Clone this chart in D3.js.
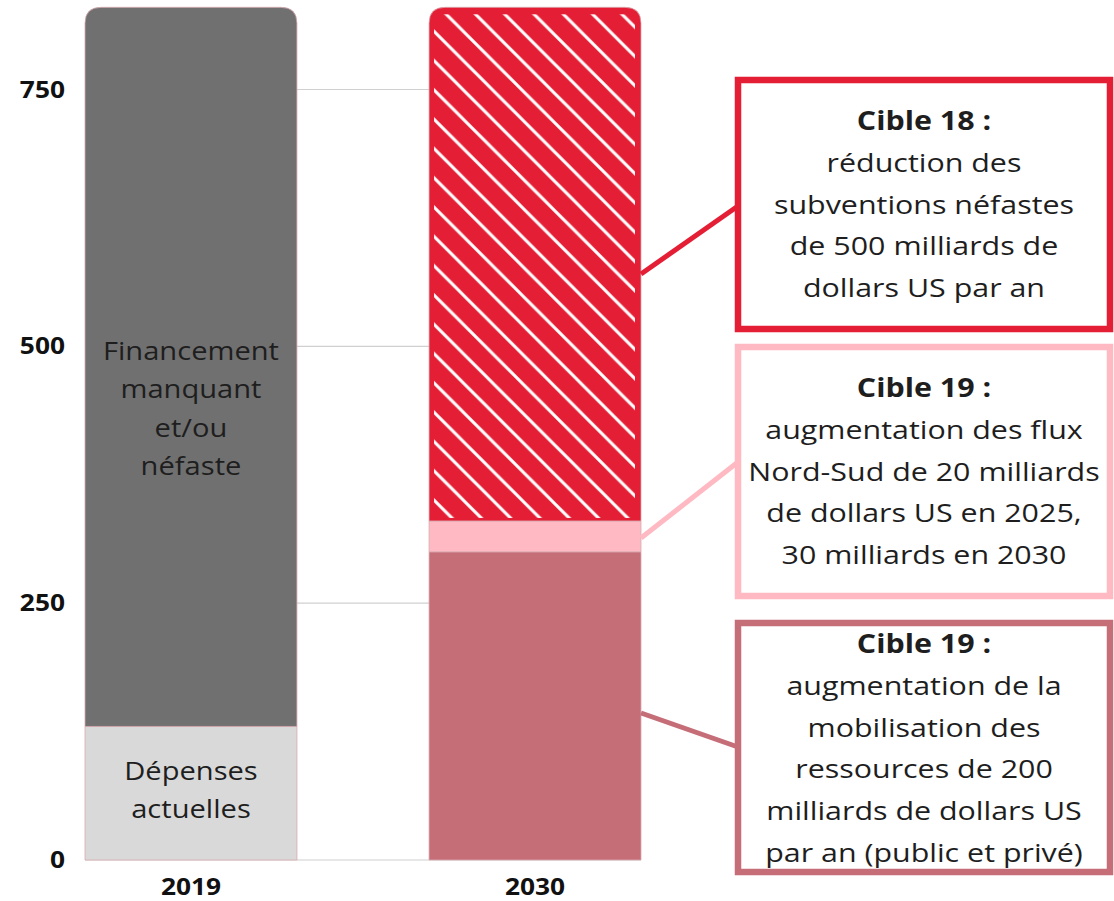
<!DOCTYPE html>
<head>
  <meta charset="utf-8">
  <script src="https://cdnjs.cloudflare.com/ajax/libs/d3/7.8.5/d3.min.js"></script>
</head>

<style>
body {
  margin: 0;
  background-color: #fff;
}
svg text {
  font-family: "Open Sans", "Noto Sans", sans-serif;
}
</style>

<body>
  <svg id='chart' width='1114' height='901'></svg>
</body>

<script>

// data
var years = ['2019', '2030'];
var yTicks = [0, 250, 500, 750];
// stacked segments, bottom to top, in billions USD
var seg2019 = [130, 700];
var seg2030 = [300, 30, 500];
var colors2019 = ['#d9d9d9', '#707070'];
var colors2030 = ['#c56e78', '#ffb9c2', '#e41f35'];
var barLabels2019 = [
  ['Dépenses', 'actuelles'],
  ['Financement', 'manquant', 'et/ou', 'néfaste']
];
var boxTitles = ['Cible 18 :', 'Cible 19 :', 'Cible 19 :'];
var boxLines = [
  ['réduction des', 'subventions néfastes', 'de 500 milliards de', 'dollars US par an'],
  ['augmentation des flux', 'Nord-Sud de 20 milliards', 'de dollars US en 2025,', '30 milliards en 2030'],
  ['augmentation de la', 'mobilisation des', 'ressources de 200', 'milliards de dollars US', 'par an (public et privé)']
];
var boxColors = ['#e41f35', '#ffb9c2', '#c56e78'];

// text in the source is drawn a bit wider than plain Open Sans
var sx = 1.17;

var svg = d3.select('#chart');

var x = d3.scaleBand()
  .domain(years)
  .range([85, 641])
  .paddingInner(0.384)
  .paddingOuter(0);

var y = d3.scaleLinear()
  .domain([0, 750])
  .range([860, 89.5]);

var bw = x.bandwidth();

// hatch pattern
var defs = svg.append('defs');
var hatch = defs.append('pattern')
  .attr('id', 'hatch')
  .attr('patternUnits', 'userSpaceOnUse')
  .attr('x', 432)
  .attr('y', 0)
  .attr('width', 29.3)
  .attr('height', 29.3);
hatch.append('path')
  .attr('d', 'M-3,-3 L32.3,32.3 M-3,26.3 L3,32.3 M26.3,-3 L32.3,3')
  .attr('stroke', '#fff')
  .attr('stroke-width', 3);

// gridlines
svg.append('g')
  .selectAll('line')
  .data(yTicks)
  .join('line')
    .attr('x1', x.range()[0])
    .attr('x2', x.range()[1])
    .attr('y1', function(d){ return y(d) })
    .attr('y2', function(d){ return y(d) })
    .attr('stroke', '#d0d0d0')
    .attr('stroke-width', 1.2);

// y tick labels
svg.append('g')
  .selectAll('text')
  .data(yTicks)
  .join('text')
    .attr('transform', function(d){ return 'translate(65,' + (y(d) + 8) + ') scale(' + sx + ',1)' })
    .attr('text-anchor', 'end')
    .attr('font-size', 22.5)
    .attr('font-weight', 700)
    .attr('fill', '#111')
    .text(function(d){ return d });

// year labels
svg.append('g')
  .selectAll('text')
  .data(years)
  .join('text')
    .attr('transform', function(d){ return 'translate(' + (x(d) + bw / 2) + ',895) scale(' + sx + ',1)' })
    .attr('text-anchor', 'middle')
    .attr('font-size', 22.5)
    .attr('font-weight', 700)
    .attr('fill', '#111')
    .text(function(d){ return d });

// rounded top path
function barPath(x0, y0, w, h, r) {
  return 'M' + x0 + ',' + (y0 + h) +
    ' L' + x0 + ',' + (y0 + r) +
    ' Q' + x0 + ',' + y0 + ' ' + (x0 + r) + ',' + y0 +
    ' L' + (x0 + w - r) + ',' + y0 +
    ' Q' + (x0 + w) + ',' + y0 + ' ' + (x0 + w) + ',' + (y0 + r) +
    ' L' + (x0 + w) + ',' + (y0 + h) + ' Z';
}

function drawStack(year, values, cols) {
  var g = svg.append('g');
  var acc = 0;
  var out = [];
  values.forEach(function(v, i){
    var y0 = y(acc + v), y1 = y(acc);
    var last = i == values.length - 1;
    g.append('path')
      .attr('d', barPath(x(year), y0, bw, y1 - y0, last ? 16 : 0))
      .attr('fill', cols[i])
      .attr('stroke', '#d9a9b0')
      .attr('stroke-width', 0.8);
    out.push({lo: acc, hi: acc + v});
    acc += v;
  });
  return {g: g, segs: out};
}

var s2019 = drawStack('2019', seg2019, colors2019);
var s2030 = drawStack('2030', seg2030, colors2030);

// hatched overlay on top 2030 segment
var top30 = s2030.segs[2];
s2030.g.append('rect')
  .attr('x', x('2030') + 5)
  .attr('y', y(top30.hi) + 7)
  .attr('width', bw - 11)
  .attr('height', y(top30.lo) - y(top30.hi) - 10)
  .attr('fill', 'url(#hatch)');

// centred, widened multi-line text
function block(parent, cx, lines, y0, step, size, boldFirst, k) {
  var t = parent.append('text')
    .attr('transform', 'translate(' + cx + ',0) scale(' + k + ',1)')
    .attr('text-anchor', 'middle')
    .attr('font-size', size)
    .attr('fill', '#1e1e1e');
  t.selectAll('tspan')
    .data(lines)
    .join('tspan')
      .attr('x', 0)
      .attr('y', function(d, j){ return y0 + j * step })
      .attr('font-weight', function(d, j){ return boldFirst && j == 0 ? 700 : 400 })
      .text(function(d){ return d });
}

// labels inside 2019 bar
var labelTop = [780, 360];
barLabels2019.forEach(function(lines, i){
  block(svg, x('2019') + bw / 2, lines, labelTop[i], 38.5, 26, false, 1.12);
});

// annotation boxes
var boxX = 738, boxW = 372, boxH = 249;
var boxY = [80, 347, 623];
var titleY = [130, 397, 653];
// connector: [y on bar edge, y on box edge]
var connY = [[274, 206], [538, 462], [713, 747]];

boxColors.forEach(function(c, i){
  var g = svg.append('g');
  g.append('line')
    .attr('x1', x('2030') + bw)
    .attr('y1', connY[i][0])
    .attr('x2', boxX)
    .attr('y2', connY[i][1])
    .attr('stroke', c)
    .attr('stroke-width', 5);
  g.append('rect')
    .attr('x', boxX)
    .attr('y', boxY[i])
    .attr('width', boxW)
    .attr('height', boxH)
    .attr('fill', '#fff')
    .attr('stroke', c)
    .attr('stroke-width', 6.5);
  block(g, boxX + boxW / 2, [boxTitles[i]].concat(boxLines[i]), titleY[i], 41.8, 26, true, sx);
});

</script>
